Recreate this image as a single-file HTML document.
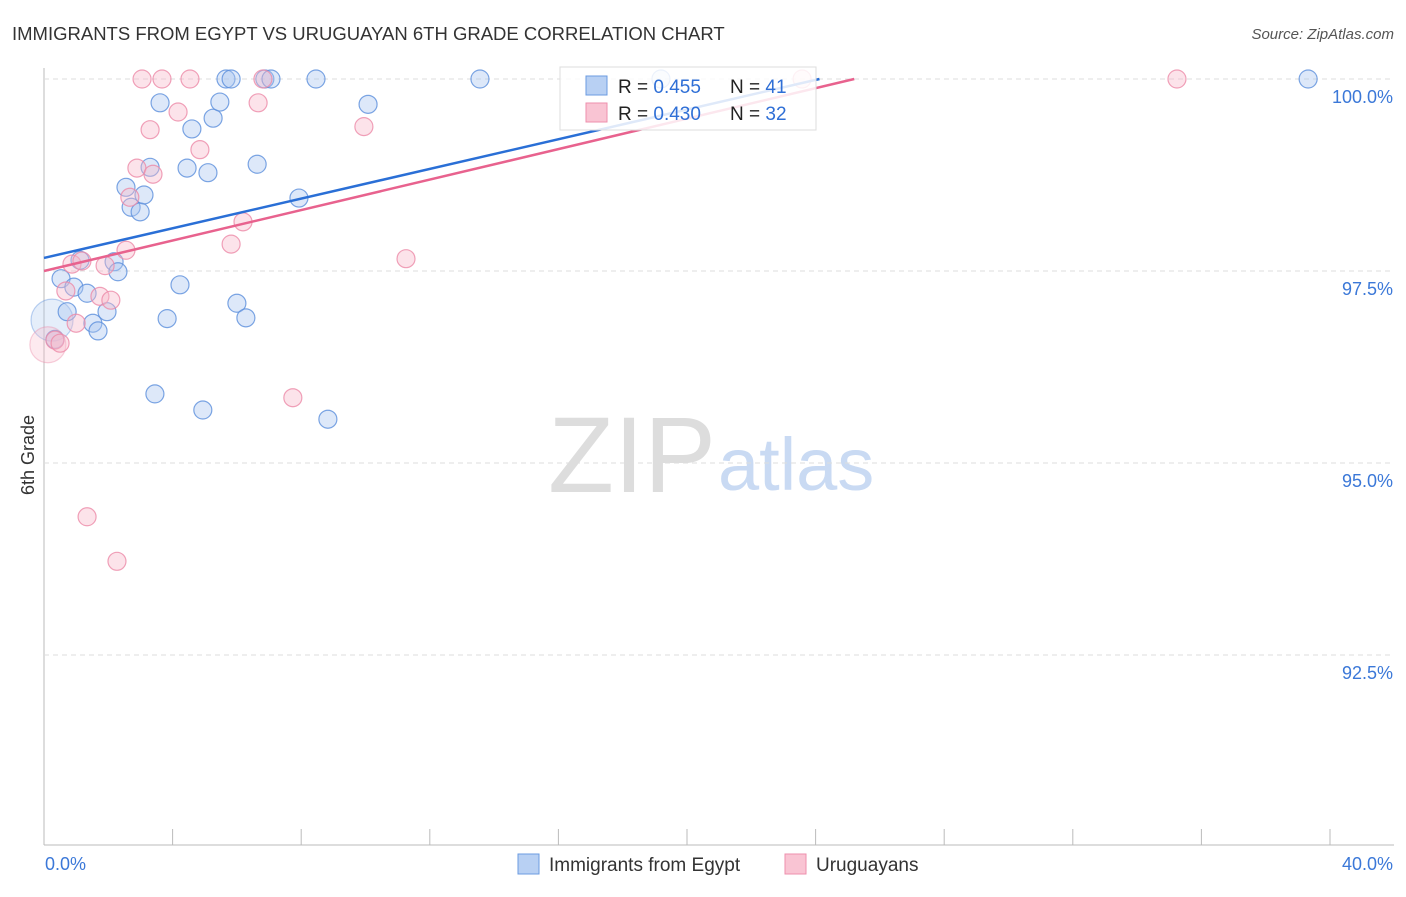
<!DOCTYPE html>
<html><head><meta charset="utf-8"><style>
body{margin:0;background:#fff;font-family:"Liberation Sans",sans-serif}
svg text{font-family:"Liberation Sans",sans-serif}
</style></head><body>
<svg id="c" width="1406" height="892">
<text x="12" y="40" font-size="18.5" fill="#333">IMMIGRANTS FROM EGYPT VS URUGUAYAN 6TH GRADE CORRELATION CHART</text>
<text x="1394" y="39" font-size="15" fill="#555" text-anchor="end" font-style="italic">Source: ZipAtlas.com</text>
<text x="716" y="492" font-size="108" fill="#ddd" text-anchor="end" font-family="Liberation Serif">ZIP</text>
<text x="718" y="490" font-size="74" fill="#c9daf3">atlas</text>
<text transform="translate(34,455) rotate(-90)" font-size="18" fill="#333" text-anchor="middle">6th Grade</text>
<g id="grid"></g><g id="pts"></g><g id="lines"></g>
<g>
<rect x="560" y="67" width="256" height="63" fill="#fff" fill-opacity="0.85" stroke="#ddd"/>
<rect x="586" y="76" width="21" height="19" fill="#b8d0f3" stroke="#6b9be0"/>
<rect x="586" y="103" width="21" height="19" fill="#f9c4d3" stroke="#ee8fac"/>
<text x="618" y="93" font-size="19" fill="#222">R = <tspan fill="#2f6fd6">0.455</tspan><tspan x="730">N = </tspan><tspan fill="#2f6fd6">41</tspan></text>
<text x="618" y="120" font-size="19" fill="#222">R = <tspan fill="#2f6fd6">0.430</tspan><tspan x="730">N = </tspan><tspan fill="#2f6fd6">32</tspan></text>
</g>
<g>
<rect x="518" y="854" width="21" height="20" fill="#b8d0f3" stroke="#6b9be0"/>
<text x="549" y="871" font-size="19" fill="#333">Immigrants from Egypt</text>
<rect x="785" y="854" width="21" height="20" fill="#f9c4d3" stroke="#ee8fac"/>
<text x="816" y="871" font-size="19" fill="#333">Uruguayans</text>
</g>
</svg>
<script>
const yTicks=[100,97.5,95,92.5];
const yTickLabels=["100.0%","97.5%","95.0%","92.5%"];
const xTickLabels=["0.0%","40.0%"];
const blueX=[0.25,0.53,0.72,0.34,0.93,1.34,1.52,1.68,1.96,2.18,2.30,1.12,2.55,2.71,2.99,3.11,3.30,3.45,3.61,3.83,4.23,4.45,4.60,4.94,5.10,5.26,5.47,5.66,5.82,6.00,6.28,6.63,6.87,7.06,7.93,8.46,8.83,10.08,13.56,19.19,39.32];
const blueY=[96.86,97.40,96.97,96.61,97.29,97.21,96.82,96.72,96.97,97.62,97.49,97.64,98.59,98.33,98.27,98.49,98.85,95.90,99.69,96.88,97.32,98.84,99.35,95.69,98.78,99.49,99.70,100,100,97.08,96.89,98.89,100,100,98.45,100,95.57,99.67,100,100,100];
const pinkX=[0.12,0.34,0.50,0.68,0.87,1.00,1.18,1.34,1.74,1.90,2.08,2.27,2.55,2.67,2.89,3.05,3.30,3.39,3.67,4.17,4.54,4.85,5.82,6.19,6.66,6.81,7.74,9.95,11.26,23.58,35.24];
const pinkY=[96.54,96.60,96.56,97.24,97.59,96.82,97.63,94.30,97.17,97.57,97.12,93.72,97.77,98.46,98.84,100,99.34,98.76,100,99.57,100,99.08,97.85,98.14,99.69,100,95.85,99.38,97.66,100,100];
const blueTrend=[97.67,0.0966];
const pinkTrend=[97.50,0.0992];
const X=v=>44+v/40*1286, Y=v=>79+(100-v)*76.8;
const NS="http://www.w3.org/2000/svg";
function mk(tag,attrs,parent){const e=document.createElementNS(NS,tag);for(const k in attrs)e.setAttribute(k,attrs[k]);document.getElementById(parent).appendChild(e);return e;}
let a=mk('line',{x1:44,y1:68,x2:44,y2:845,stroke:'#bbb'},'grid');


a=mk('line',{x1:44,y1:845,x2:1394,y2:845,stroke:'#bbb'},'grid');


for(let i=0;i<=10;i++){const t=mk('line',{x1:X(i*4),y1:829,x2:X(i*4),y2:845,stroke:'#bbb'},'grid');

}
yTicks.forEach((v,i)=>{const g=mk('line',{x1:44,y1:Y(v),x2:1394,y2:Y(v),stroke:'#ddd','stroke-dasharray':'5,4'},'grid');


const t=mk('text',{x:1393,y:Y(v)+24,'font-size':18,fill:'#3b78d8','text-anchor':'end'},'grid');t.textContent=yTickLabels[i];

});
[[0,'start',45],[40,'end',1393]].forEach((d,i)=>{const t=mk('text',{x:d[2],y:870,'font-size':18,fill:'#3b78d8','text-anchor':d[1]},'grid');t.textContent=xTickLabels[i];

});
function pts(xs,ys,fill,stroke,name,bigR){xs.forEach((x,i)=>{const big=(i===0);const c=mk('circle',{cx:X(x),cy:Y(ys[i]),r:big?bigR:9,fill:fill,'fill-opacity':big?0.3:0.4,stroke:stroke,'stroke-width':1.2,'stroke-opacity':big?0.4:0.8},'pts');

});}
pts(blueX,blueY,'#a9c6f0','#5b8fdc','point-egypt',21);
pts(pinkX,pinkY,'#f7b9cb','#ec8aa8','point-uruguayans',18);
function trend(tr,col,name){const xe=Math.min(40,(100-tr[0])/tr[1]);const l=mk('line',{x1:X(0),y1:Y(tr[0]),x2:X(xe),y2:Y(tr[0]+tr[1]*xe),stroke:col,'stroke-width':2.5},'lines');

}
trend(blueTrend,'#2a6fd6','trendline-egypt');
trend(pinkTrend,'#e8628e','trendline-uruguayans');
</script>
</body></html>
